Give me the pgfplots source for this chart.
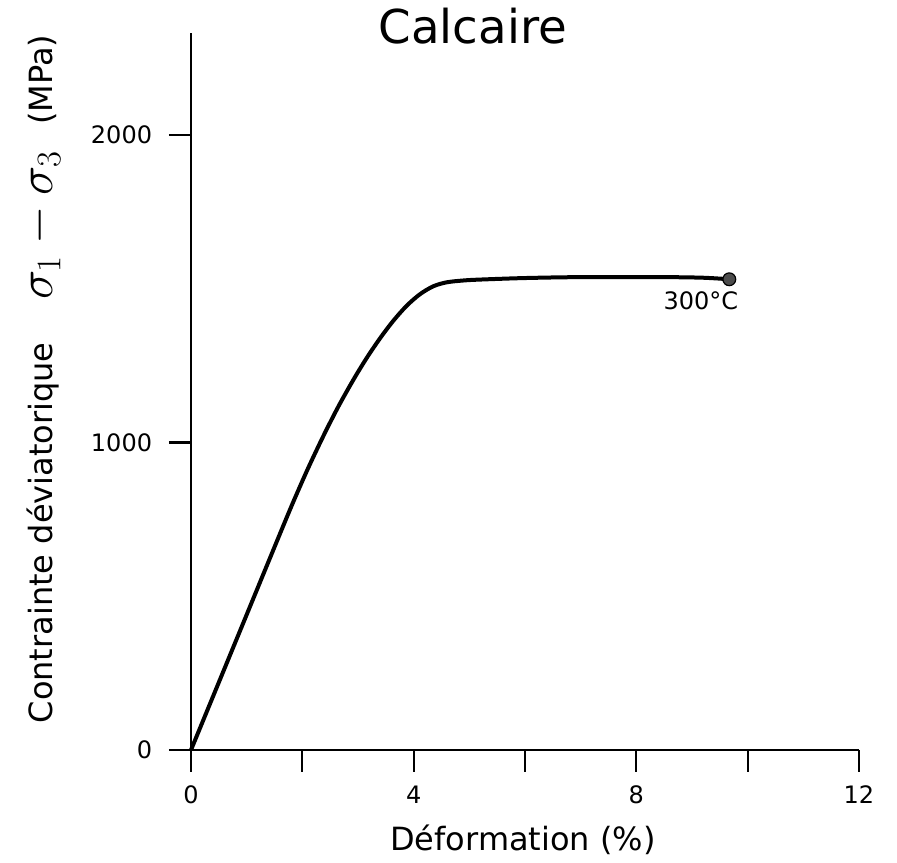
\RequirePackage{fix-cm}
\documentclass[border=0pt]{standalone}
\usepackage{pgfplots}
\pgfplotsset{compat=1.18}
\usepackage{fontspec}
\setmainfont{DejaVu Sans}
\begin{document}
\begin{tikzpicture}
\useasboundingbox (-143.25pt,-84.75pt) rectangle (529.5pt,562.5pt);
\begin{axis}[
  at={(0,0)}, anchor=south west,
  scale only axis,
  width=501pt, height=537.75pt,
  xmin=0, xmax=12, ymin=0, ymax=2332,
  axis x line*=bottom, axis y line*=left,
  axis line style={-, line width=1.6pt},
  every tick/.style={black, line width=1.6pt},
  tick align=outside,
  major tick length=16.5pt,
  xtick={0,2,4,6,8,10,12},
  xticklabels={0,,4,,8,,12},
  ytick={0,1000,2000},
  /pgf/number format/assume math mode=true,
  /pgf/number format/set thousands separator={},
  tick label style={font=\fontsize{18}{20}\selectfont},
  xticklabel style={anchor=base, yshift=-23.5pt},
  yticklabel style={anchor=east, inner sep=0pt, xshift=-12.5pt},
  title={Calcaire},
  title style={at={(axis description cs:0.422,0.9735)}, anchor=base, yshift=0pt, font=\fontsize{35}{40}\selectfont},
  xlabel={Déformation (\%)},
  xlabel style={at={(axis description cs:0.497,-0.1404)}, anchor=base, font=\fontsize{24}{28}\selectfont},
  ylabel={Contrainte déviatorique\hspace{32pt}{\fontsize{37}{40}\selectfont$\sigma_1 - \sigma_3$}\hspace{20pt}(MPa)},
  ylabel style={at={(axis description cs:-0.2066,0.5174)}, anchor=base, font=\fontsize{24}{28}\selectfont},
  clip=false,
]
\addplot[black, line width=3pt, smooth, tension=0.5] coordinates {
(0,0) (0.5,220) (1.0,440) (1.6,704) (1.84,808) (2.1,915) (2.38,1022)
(2.65,1118) (2.92,1205) (3.16,1276) (3.40,1340) (3.63,1395) (3.87,1444)
(4.11,1482) (4.35,1508) (4.59,1521) (4.89,1527) (5.19,1530) (6.0,1535)
(7.0,1538) (8.48,1538) (9.2,1536) (9.67,1531)
};
\addplot[only marks, mark=*, mark size=4.8pt, mark options={fill=black!70, draw=black, line width=0.9pt}] coordinates {(9.67,1531)};
\node[anchor=base, font=\fontsize{18}{20}\selectfont] at (axis cs:9.16,1433) {300°C};
\end{axis}
\end{tikzpicture}
\end{document}
